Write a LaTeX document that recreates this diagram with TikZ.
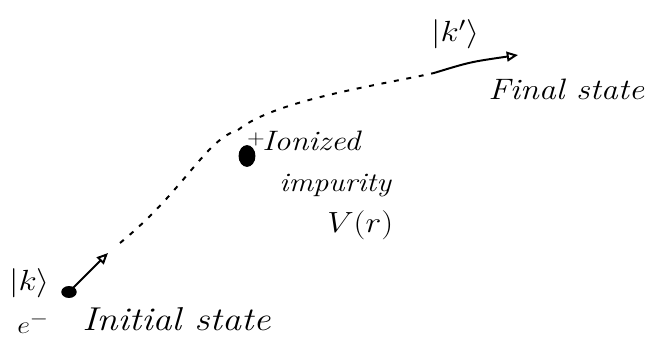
\documentclass[tikz,border=0pt]{standalone}
\usepackage{tikz}
\usepackage{graphicx}
\usetikzlibrary{arrows.meta,positioning,shapes.geometric}

\newcommand{\hand}[2]{\scalebox{1.15}[1]{\fontsize{#1}{#1}\selectfont\itshape #2}}

\begin{document}
\begin{tikzpicture}[
  x=0.025cm, y=-0.025cm,
  every node/.style={inner sep=0pt},
  charge/.style={fill=black, ellipse, inner sep=0pt},
  kvec/.style={-{Triangle[open, length=8pt, width=7pt]}, line width=1.4pt},
  trail/.style={line width=1.4pt, dash pattern=on 3.5pt off 5.5pt},
  lbl/.style={anchor=base west}
]
\useasboundingbox (0,0) rectangle (649,339);

% electron and its initial wave vector
\node[charge, minimum width=11pt, minimum height=8.5pt] (electron) at (69,292) {};
\coordinate (ktip) at (108,253);
\draw[kvec] (electron.center) -- (ktip);
\node[lbl] (kin) at (9,290) {\hand{22}{$|k\rangle$}};
\node[lbl] (eminus) at (17,333) {\hand{19}{$e^-$}};
\node[lbl] (initial) at (82,330) {\hand{23.5}{Initial state}};

% ionized impurity
\node[charge, minimum width=12pt, minimum height=15.5pt] (impurity) at (247,156) {};
\node (plus) at (256,139) {\hand{14}{$+$}};
\node[lbl] (ionized) at (262,151) {\hand{20}{Ionized}};
\node[lbl] (impname) at (279,192) {\hand{19}{impurity}};
\node[lbl] (potential) at (327,233) {\hand{19.5}{$V(r)$}};

% scattered trajectory
\coordinate (start) at (120,243);
\coordinate (bend) at (238,130);
\coordinate (out) at (434,73);
\draw[trail] (start) .. controls (185,190) and (205,140) .. (bend)
  .. controls (275,100) and (380,85) .. (out);

% final state
\coordinate (kftip) at (518,55);
\draw[kvec] (out) .. controls (470,62) .. (kftip);
\node[lbl] (kout) at (431,42) {\hand{20}{$|k'\rangle$}};
\node[lbl] (final) at (488,100) {\hand{21}{Final state}};
\end{tikzpicture}
\end{document}
